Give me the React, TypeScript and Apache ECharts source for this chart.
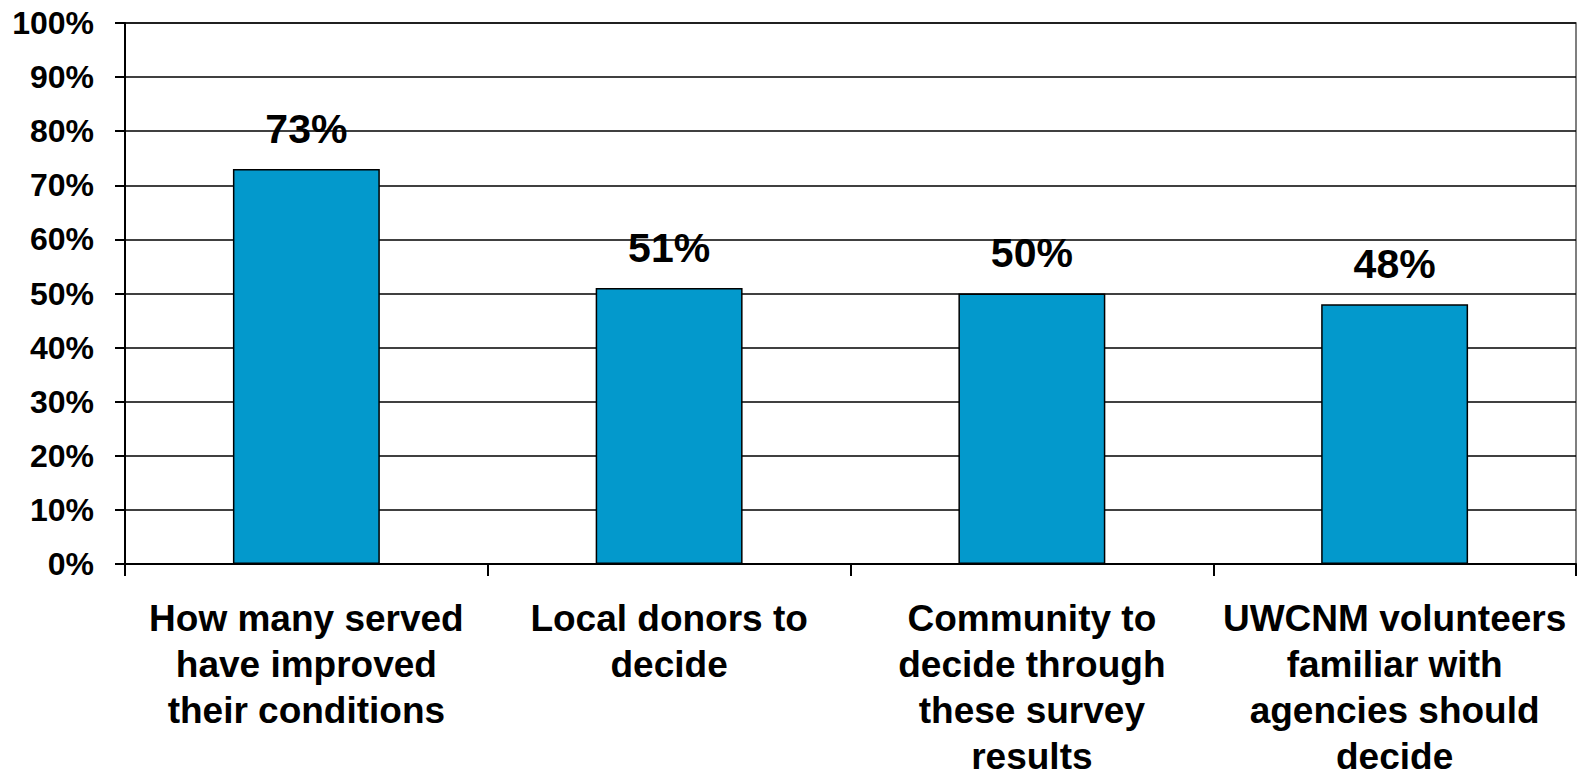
import React, { useEffect, useRef } from "react";
import * as echarts from "echarts";

const categories = [
  "How many served\nhave improved\ntheir conditions",
  "Local donors to\ndecide",
  "Community to\ndecide through\nthese survey\nresults",
  "UWCNM volunteers\nfamiliar with\nagencies should\ndecide",
];
const values = [73, 51, 50, 48];
const yTicks = { min: 0, max: 100, interval: 10 };

const FONT = "'Liberation Sans', Arial, Helvetica, sans-serif";

export default function App() {
  const ref = useRef<HTMLDivElement>(null);
  useEffect(() => {
    if (!ref.current) return;
    const chart = echarts.init(ref.current, null, { renderer: "svg" });
    chart.setOption({
      animation: false,
      backgroundColor: "#ffffff",
      grid: {
        left: 125,
        right: 1,
        top: 23,
        bottom: 211,
        containLabel: false,
        outerBoundsMode: "none",
        show: true,
        borderColor: "#555",
        borderWidth: 1.5,
        backgroundColor: "transparent",
      },
      xAxis: {
        type: "category",
        data: categories,
        boundaryGap: true,
        axisLine: { show: true, lineStyle: { color: "#000", width: 2 } },
        axisTick: { show: true, length: 12, alignWithLabel: false, lineStyle: { color: "#000", width: 2 } },
        axisLabel: {
          interval: 0,
          margin: 31,
          color: "#000",
          fontFamily: FONT,
          fontWeight: "bold",
          fontSize: 37,
          lineHeight: 46,
          align: "center",
        },
        splitLine: { show: false },
      },
      yAxis: {
        type: "value",
        min: yTicks.min,
        max: yTicks.max,
        interval: yTicks.interval,
        axisLine: { show: true, lineStyle: { color: "#000", width: 2 } },
        axisTick: { show: true, length: 10, lineStyle: { color: "#000", width: 2 } },
        axisLabel: {
          formatter: "{value}%",
          margin: 31,
          color: "#000",
          fontFamily: FONT,
          fontWeight: "bold",
          fontSize: 32,
        },
        splitLine: { show: true, lineStyle: { color: "#000", width: 1.5 } },
      },
      series: [
        {
          type: "bar",
          data: values,
          barWidth: "40.5%",
          itemStyle: { color: "#0399CC", borderColor: "#000", borderWidth: 1.5 },
          label: {
            show: true,
            position: "top",
            distance: 20,
            formatter: "{c}%",
            color: "#000",
            fontFamily: FONT,
            fontWeight: "bold",
            fontSize: 41,
          },
        },
      ],
    });
    return () => chart.dispose();
  }, []);
  return (
    <div
      ref={ref}
      style={{ position: "fixed", left: 0, top: 0, width: 1577, height: 775 }}
    />
  );
}
